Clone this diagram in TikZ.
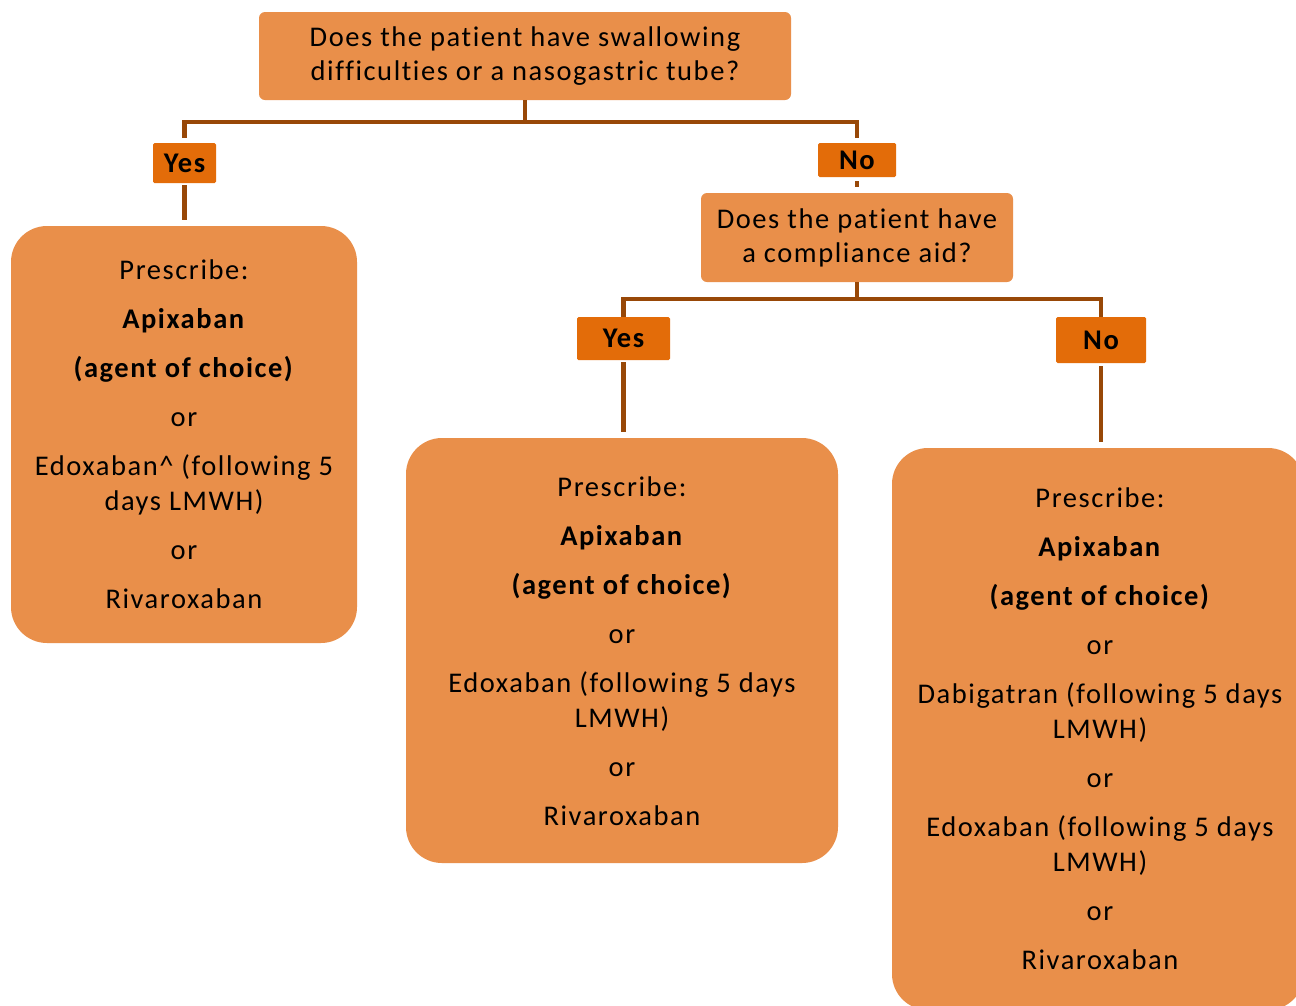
\documentclass[tikz,border=0pt]{standalone}
\usepackage{fontspec}
\setmainfont{Carlito}[LetterSpace=5.5, Ligatures={NoCommon}]
\definecolor{qfill}{HTML}{E98F4A}
\definecolor{labfill}{HTML}{E36C09}
\definecolor{linec}{HTML}{984807}
\begin{document}
\begin{tikzpicture}[x=1pt,y=-1pt,
  every node/.style={inner sep=0pt, outer sep=0pt},
  qbox/.style={fill=qfill, rounded corners=6pt, align=center, font=\fontsize{28.5}{34}\selectfont},
  bigbox/.style={fill=qfill, rounded corners=36pt},
  lab/.style={fill=labfill, rounded corners=1.5pt, font=\fontsize{28.5}{34}\selectfont\bfseries},
  conn/.style={draw=linec, line width=4.5pt},
  txt/.style={align=center, anchor=north, font=\fontsize{28.5}{35}\selectfont}]
\useasboundingbox (0,0) rectangle (1296,1005);
\fill[white] (0,0) rectangle (1296,1005);

% boxes
\node[qbox, minimum width=532pt, minimum height=88pt] (top) at (525,56)
  {Does the patient have swallowing\\difficulties or a nasogastric tube?};
\node[lab, minimum width=63pt, minimum height=40pt] (yes1) at (184.5,163) {Yes};
\node[lab, minimum width=78pt, minimum height=34pt] (no1) at (857,160) {No};
\node[qbox, minimum width=312pt, minimum height=89pt] (q2) at (857,237.5)
  {Does the patient have\\a compliance aid?};
\node[lab, minimum width=93pt, minimum height=43pt] (yes2) at (623.5,338.5) {Yes};
\node[lab, minimum width=90pt, minimum height=46pt] (no2) at (1101,340) {No};

\node[bigbox, minimum width=346pt, minimum height=417pt] (boxL) at (184,434.5) {};
\node[bigbox, minimum width=432pt, minimum height=425pt] (boxM) at (622,650.5) {};
\node[bigbox, minimum width=412pt, minimum height=562pt] (boxR) at (1098,729) {};

% texts
\node[txt] (tL) at (184,259.5) {Prescribe:\\[14pt]
  \textbf{Apixaban}\\[14pt]
  \textbf{(agent of choice)}\\[14pt]
  or\\[14pt]
  Edoxaban\textasciicircum{} (following 5\\
  days LMWH)\\[14pt]
  or\\[14pt]
  Rivaroxaban};
\node[txt] (tM) at (622,477) {Prescribe:\\[14pt]
  \textbf{Apixaban}\\[14pt]
  \textbf{(agent of choice)}\\[14pt]
  or\\[14pt]
  Edoxaban (following 5 days\\
  LMWH)\\[14pt]
  or\\[14pt]
  Rivaroxaban};
\node[txt] (tR) at (1100,488) {Prescribe:\\[14pt]
  \textbf{Apixaban}\\[14pt]
  \textbf{(agent of choice)}\\[14pt]
  or\\[14pt]
  Dabigatran (following 5 days\\
  LMWH)\\[14pt]
  or\\[14pt]
  Edoxaban (following 5 days\\
  LMWH)\\[14pt]
  or\\[14pt]
  Rivaroxaban};

% connectors
\coordinate (j1) at (525,122);
\coordinate (j2) at (857,299);
\draw[conn] (top.south) -- (j1);
\draw[conn, shorten >=5pt] (j1) -| (yes1.north);
\draw[conn, shorten >=5pt] (j1) -| (no1.north);
\draw[conn, shorten <=2pt, shorten >=6pt] (yes1.south) -- (yes1.south |- boxL.north);
\draw[conn, shorten <=4pt, shorten >=6pt] (no1.south) -- (q2.north);
\draw[conn] (q2.south) -- (j2);
\draw[conn] (j2) -| (yes2.north);
\draw[conn] (j2) -| (no2.north);
\draw[conn, shorten <=2pt, shorten >=6pt] (yes2.south) -- (yes2.south |- boxM.north);
\draw[conn, shorten <=3pt, shorten >=6pt] (no2.south) -- (no2.south |- boxR.north);
\end{tikzpicture}
\end{document}
